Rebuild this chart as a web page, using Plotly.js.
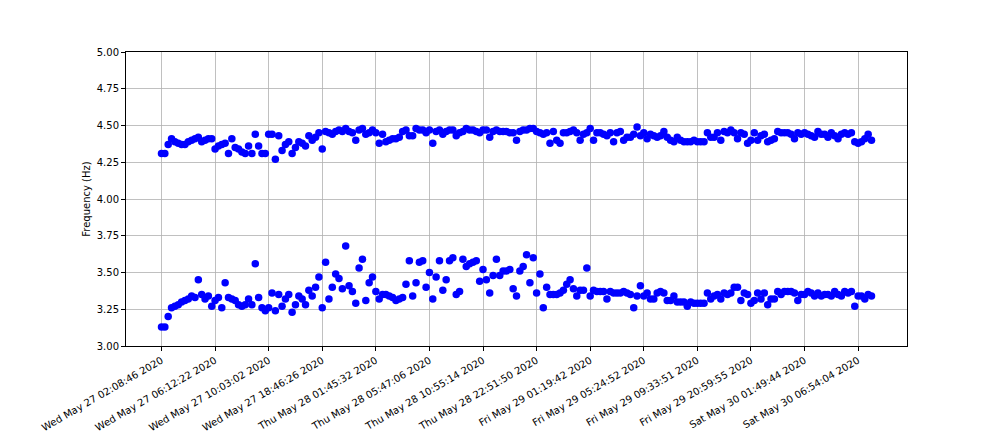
<!DOCTYPE html>
<html>
<head>
<meta charset="utf-8">
<script src="https://cdn.plot.ly/plotly-3.0.1.min.js"></script>
<style>html,body{margin:0;padding:0;background:#fff;}#chart{width:1008px;height:432px;}</style>
</head>
<body>
<div id="chart"></div>
<script>
// Upper frequency series (Hz), one value per sample
const upperA = [4.31,4.31,4.37,4.41,4.39,4.38,4.37,4.37,4.39,4.40,4.41,4.42,4.39,4.40,4.41,4.41,4.34,4.36,4.37,4.38,4.31,4.41,4.35,4.34,4.32,4.31,4.36,4.31,4.44,4.36,4.31,4.31,4.44,4.44,4.27,4.43,4.33,4.37,4.39,4.31,4.35,4.39,4.38,4.36,4.43,4.40,4.42,4.45,4.34];
const upperB = [4.46,4.45,4.44,4.46,4.47,4.46,4.48,4.46,4.45,4.40,4.47,4.48,4.44,4.45,4.47,4.45,4.38,4.44,4.39,4.40,4.41,4.41,4.42,4.46,4.47,4.43,4.43,4.48,4.47,4.47,4.45,4.47,4.38,4.46,4.47,4.44,4.46,4.47,4.47,4.43,4.45,4.46,4.48,4.47,4.47,4.46,4.45,4.47,4.47,4.42,4.46,4.47,4.46,4.46,4.46,4.45,4.45,4.40];
const upperC = [4.46,4.47,4.47,4.48,4.48,4.46,4.45,4.44,4.45,4.38,4.46,4.40,4.38,4.45,4.45,4.46,4.47,4.45,4.40,4.44,4.45,4.48,4.40,4.45,4.45,4.44,4.43,4.45,4.39,4.45,4.46,4.40,4.42,4.42,4.44,4.49,4.43,4.45,4.41,4.44,4.43,4.42,4.43,4.46,4.42,4.40,4.39,4.42,4.40,4.39,4.39,4.39,4.40,4.39,4.39,4.39,4.45,4.42];
const upperD = [4.42,4.45,4.40,4.46,4.45,4.47,4.45,4.41,4.45,4.44,4.38,4.40,4.45,4.40,4.43,4.44,4.39,4.40,4.41,4.46,4.45,4.45,4.45,4.44,4.41,4.45,4.44,4.45,4.44,4.43,4.42,4.46,4.44,4.44,4.42,4.45,4.43,4.41,4.44,4.45,4.44,4.45,4.39,4.38,4.39,4.41,4.44,4.40];

// Lower frequency series (Hz)
const lowerA = [3.13,3.13,3.20,3.26,3.27,3.28,3.30,3.31,3.32,3.34,3.33,3.45,3.35,3.32,3.34,3.27,3.31,3.33,3.26,3.43,3.33,3.32,3.31,3.28,3.27,3.28,3.32,3.28,3.56,3.33,3.26,3.24,3.26,3.36,3.24,3.35,3.27,3.32,3.35,3.23,3.28,3.34,3.32,3.28,3.38,3.34,3.40,3.47,3.26];
const lowerB = [3.57,3.32,3.40,3.49,3.46,3.39,3.68,3.41,3.37,3.29,3.53,3.59,3.31,3.43,3.47,3.37,3.32,3.35,3.35,3.34,3.33,3.31,3.32,3.33,3.42,3.58,3.34,3.43,3.57,3.58,3.40,3.50,3.32,3.47,3.58,3.38,3.45,3.58,3.60,3.35,3.37,3.59,3.54,3.56,3.57,3.58,3.44,3.52,3.45,3.36,3.48,3.59,3.48,3.51,3.51,3.52,3.39,3.34];
const lowerC = [3.51,3.54,3.62,3.43,3.60,3.36,3.49,3.26,3.40,3.35,3.35,3.35,3.36,3.38,3.42,3.45,3.39,3.34,3.38,3.38,3.53,3.34,3.38,3.37,3.37,3.37,3.32,3.37,3.36,3.36,3.36,3.37,3.36,3.35,3.26,3.34,3.41,3.34,3.36,3.32,3.32,3.36,3.37,3.36,3.31,3.31,3.34,3.30,3.30,3.30,3.27,3.30,3.29,3.29,3.29,3.29,3.36,3.32];
const lowerD = [3.34,3.35,3.32,3.36,3.35,3.36,3.40,3.40,3.31,3.36,3.35,3.29,3.31,3.36,3.32,3.36,3.28,3.32,3.32,3.37,3.35,3.37,3.37,3.37,3.36,3.31,3.35,3.35,3.37,3.36,3.34,3.36,3.34,3.35,3.35,3.34,3.37,3.35,3.34,3.37,3.36,3.37,3.27,3.34,3.34,3.32,3.35,3.34];

const upper = upperA.concat(upperB, upperC, upperD);
const lower = lowerA.concat(lowerB, lowerC, lowerD);

// Tick labels (every 16th sample)
const tickLabels = [
  "Wed May 27 02:08:46 2020","Wed May 27 06:12:22 2020","Wed May 27 10:03:02 2020",
  "Wed May 27 18:46:26 2020","Thu May 28 01:45:32 2020","Thu May 28 05:47:06 2020",
  "Thu May 28 10:55:14 2020","Thu May 28 22:51:50 2020","Fri May 29 01:19:42 2020",
  "Fri May 29 05:24:52 2020","Fri May 29 09:33:51 2020","Fri May 29 20:59:55 2020",
  "Sat May 30 01:49:44 2020","Sat May 30 06:54:04 2020"
];
const tickStep = 16;
const yTicks = [3.00,3.25,3.50,3.75,4.00,4.25,4.50,4.75,5.00];

const n = Math.max(upper.length, lower.length);
const idxU = upper.map((_, i) => i);
const idxL = lower.map((_, i) => i);
const tickVals = tickLabels.map((_, k) => k * tickStep);
const pad = 0.05 * (n - 1);

const marker = {color: '#0000ff', size: 7.5, line: {width: 0}};
const traces = [
  {x: idxU, y: upper, type: 'scatter', mode: 'markers', marker: marker, hoverinfo: 'y'},
  {x: idxL, y: lower, type: 'scatter', mode: 'markers', marker: marker, hoverinfo: 'y'}
];

const axisCommon = {
  showline: true, mirror: true, linecolor: '#000', linewidth: 1,
  showgrid: true, gridcolor: '#b0b0b0', gridwidth: 0.8,
  ticks: 'outside', ticklen: 4, tickcolor: '#000', tickwidth: 1,
  zeroline: false,
  tickfont: {family: 'DejaVu Sans', size: 10, color: '#000'}
};

const layout = {
  width: 1008, height: 432,
  margin: {l: 126, r: 101, t: 52, b: 86, pad: 0},
  paper_bgcolor: '#fff', plot_bgcolor: '#fff',
  showlegend: false,
  font: {family: 'DejaVu Sans', size: 10, color: '#000'},
  xaxis: Object.assign({}, axisCommon, {
    range: [-pad, n - 1 + pad],
    tickmode: 'array', tickvals: tickVals, ticktext: tickLabels,
    tickangle: -30
  }),
  yaxis: Object.assign({}, axisCommon, {
    range: [3, 5],
    tickmode: 'array', tickvals: yTicks, ticktext: yTicks.map(v => v.toFixed(2)),
    title: {text: 'Frequency (Hz)', font: {family: 'DejaVu Sans', size: 10, color: '#000'}, standoff: 4}
  })
};

Plotly.newPlot('chart', traces, layout, {staticPlot: true, displayModeBar: false});
</script>
</body>
</html>
